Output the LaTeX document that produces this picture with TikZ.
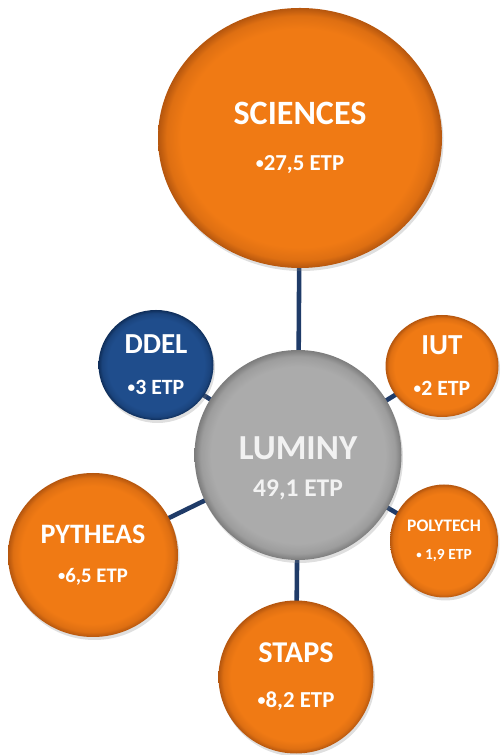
\documentclass[tikz,border=0pt]{standalone}
\usepackage{fontspec}
\setmainfont{Carlito}
\usetikzlibrary{shapes.geometric,backgrounds,shadows}

\definecolor{etporange}{HTML}{F07A14}
\definecolor{etporangerim}{HTML}{B5560E}
\definecolor{etpgray}{HTML}{ABABAB}
\definecolor{etpgrayrim}{HTML}{7C7C7C}
\definecolor{etpblue}{HTML}{1F4D8C}
\definecolor{etpbluerim}{HTML}{0F2E5A}
\definecolor{etplink}{HTML}{1F3B68}
\definecolor{etplight}{HTML}{F2F2F2}

% flat disc with a darker bevelled rim
\pgfdeclareradialshading{orangedisc}{\pgfpointorigin}{color(0bp)=(etporange); color(21bp)=(etporange); color(23.5bp)=(etporange!70!etporangerim); color(25bp)=(etporangerim); color(50bp)=(etporangerim)}
\pgfdeclareradialshading{graydisc}{\pgfpointorigin}{color(0bp)=(etpgray); color(21bp)=(etpgray); color(23.5bp)=(etpgray!70!etpgrayrim); color(25bp)=(etpgrayrim); color(50bp)=(etpgrayrim)}
\pgfdeclareradialshading{bluedisc}{\pgfpointorigin}{color(0bp)=(etpblue); color(21bp)=(etpblue); color(23.5bp)=(etpblue!70!etpbluerim); color(25bp)=(etpbluerim); color(50bp)=(etpbluerim)}

% small bullet in front of the ETP counts
\newcommand{\etpdot}{\raisebox{0.1em}{\scalebox{0.7}{•}}}

\tikzset{
  disc/.style={ellipse, inner sep=0pt, align=center, text=white,
    drop shadow={opacity=0.25, shadow xshift=0.03cm, shadow yshift=-0.06cm}},
  orangebub/.style={disc, shading=orangedisc},
  graybub/.style={disc, shading=graydisc, text=etplight},
  bluebub/.style={disc, shading=bluedisc},
  link/.style={etplink, line width=2.6pt},
}

\begin{document}
\begin{tikzpicture}
		\useasboundingbox (0,0) rectangle (10.04,15.1);
		% centre and satellites
		\node[graybub, minimum width=4.14cm, minimum height=4.2cm] (lum) at (5.96,6.0) {};
		\node[align=center, text=etplight] (lumtxt) at ([yshift=-0.27cm]lum.center)
			{\fontsize{20}{20}\selectfont\bfseries LUMINY\\[0.32cm]\fontsize{14.5}{14.5}\selectfont\bfseries 49,1 ETP};
		\node[orangebub, minimum width=5.68cm, minimum height=5.2cm] (sci) at (6.0,12.34)
			{\fontsize{19.4}{19.4}\selectfont\bfseries SCIENCES\\[0.5cm]\fontsize{13}{13}\selectfont\bfseries \etpdot27,5 ETP};
		\node[bluebub, minimum width=2.3cm, minimum height=2.2cm] (ddel) at (3.12,7.8)
			{\fontsize{16.5}{16.5}\selectfont\bfseries DDEL\\[0.4cm]\fontsize{12.4}{12.4}\selectfont\bfseries \etpdot3 ETP};
		\node[orangebub, minimum width=2.26cm, minimum height=2.04cm] (iut) at (8.84,7.78)
			{\fontsize{16.5}{16.5}\selectfont\bfseries IUT\\[0.4cm]\fontsize{12.4}{12.4}\selectfont\bfseries \etpdot2 ETP};
		\node[orangebub, minimum width=3.4cm, minimum height=3.28cm] (pyt) at (1.86,4.0)
			{\fontsize{16}{16}\selectfont\bfseries PYTHEAS\\[0.36cm]\fontsize{11.8}{11.8}\selectfont\bfseries \etpdot6,5 ETP};
		\node[orangebub, minimum width=2.16cm, minimum height=2.26cm] (poly) at (8.88,4.28)
			{\fontsize{10}{10}\selectfont\bfseries POLYTECH\\[0.14cm]\fontsize{8.8}{8.8}\selectfont\bfseries \etpdot\ 1,9 ETP};
		\node[orangebub, minimum width=3.1cm, minimum height=3.06cm] (staps) at (5.92,1.56)
			{\fontsize{17.2}{17.2}\selectfont\bfseries STAPS\\[0.48cm]\fontsize{13}{13}\selectfont\bfseries \etpdot8,2 ETP};
		% spokes behind the discs
		\begin{scope}[on background layer]
			\foreach \n in {sci,ddel,iut,pyt,poly,staps}
				\draw[link] (lum.center) -- (\n.center);
		\end{scope}
	\end{tikzpicture}
\end{document}
